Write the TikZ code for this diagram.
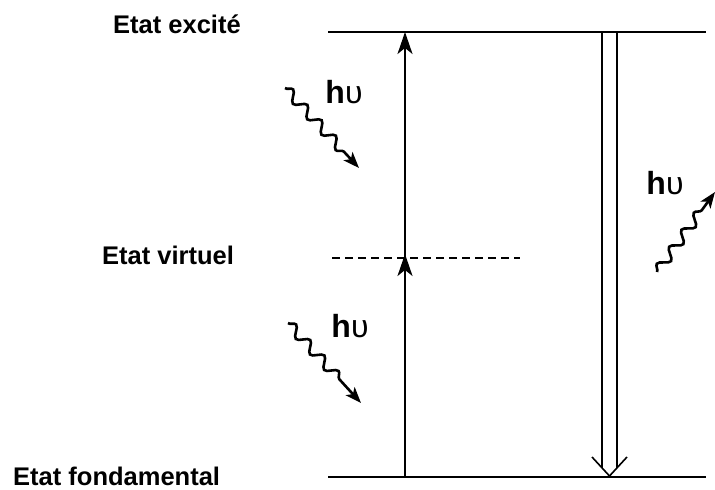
\documentclass[tikz,border=0pt]{standalone}
\usepackage{fontspec}
\setmainfont{Liberation Sans}
\usetikzlibrary{arrows.meta,decorations.pathmorphing}

\begin{document}
\begin{tikzpicture}[x=1pt, y=-1pt,
  lvl/.style={line width=1.6pt},
  up/.style={-{Stealth[length=22pt, width=15pt, inset=6pt]}, line width=1.8pt},
  wave/.style={line width=2.6pt, -{Stealth[length=16pt, width=12pt, inset=4pt]},
    decorate, decoration={snake, amplitude=5pt, segment length=21pt, post length=22pt}},
  lbl/.style={font=\bfseries\fontsize{25.5}{28}\selectfont, anchor=base west, inner sep=0pt},
  hv/.style={font=\fontsize{32}{34}\selectfont, inner sep=0pt}]
\useasboundingbox (0,0) rectangle (715,490);
% niveaux
\node[lbl] (lblExc)  at (113,33)  {Etat excité};
\node[lbl] (lblVirt) at (102,264) {Etat virtuel};
\node[lbl] (lblFond) at (13,485)  {Etat fondamental};
\coordinate (exc0) at (328,32);  \coordinate (exc1) at (706,32);
\coordinate (fond0) at (328,477); \coordinate (fond1) at (706,477);
\coordinate (virt0) at (332,258); \coordinate (virt1) at (520,258);
\draw[lvl] (exc0) -- (exc1);
\draw[lvl] (fond0) -- (fond1);
\draw[line width=1.3pt, dash pattern=on 8pt off 5pt] (virt0) -- (virt1);
% absorption
\coordinate (a0) at (405,477); \coordinate (a1) at (405,254);
\coordinate (b0) at (405,258); \coordinate (b1) at (405,32);
\draw[up] (a0) -- (a1);
\draw[up] (b0) -- (b1);
% emission (fleche double)
\coordinate (dl0) at (602,32); \coordinate (dl1) at (602,468);
\coordinate (dr0) at (617,32); \coordinate (dr1) at (617,468);
\coordinate (vl) at (592,457); \coordinate (vt) at (609.5,476); \coordinate (vr) at (627,457);
\draw[line width=1.6pt] (dl0) -- (dl1);
\draw[line width=1.6pt] (dr0) -- (dr1);
\draw[line width=1.6pt] (vl) -- (vt) -- (vr);
% photons
\coordinate (p1s) at (285,88);  \coordinate (p1e) at (359,168);
\coordinate (p2s) at (288,323); \coordinate (p2e) at (361,403);
\coordinate (p3s) at (657,272); \coordinate (p3e) at (715,192);
\draw[wave] (p1s) -- (p1e);
\draw[wave] (p2s) -- (p2e);
\draw[wave] (p3s) -- (p3e);
\node[hv] (hv1) at (344,92)  {\textbf{h}υ};
\node[hv] (hv2) at (350,326) {\textbf{h}υ};
\node[hv] (hv3) at (665,183) {\textbf{h}υ};
\end{tikzpicture}
\end{document}
